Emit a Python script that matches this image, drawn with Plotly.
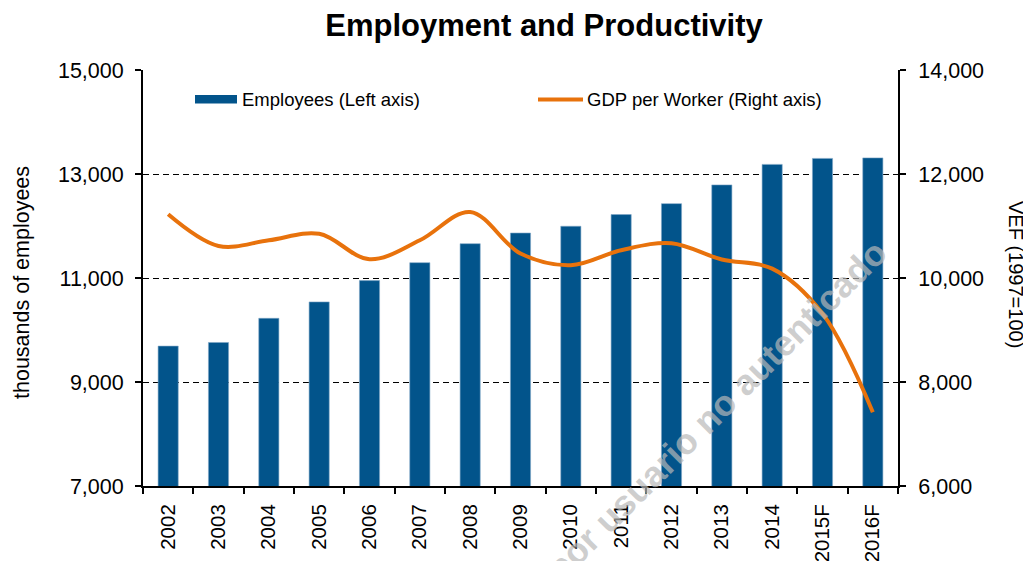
import plotly.graph_objects as go

years = ["2002", "2003", "2004", "2005", "2006", "2007", "2008", "2009",
         "2010", "2011", "2012", "2013", "2014", "2015F", "2016F"]
employees = [9690, 9760, 10225, 10540, 10950, 11295, 11660, 11865,
             11995, 12220, 12430, 12790, 13185, 13300, 13310]
gdp_per_worker = [11225, 10615, 10725, 10850, 10360, 10725, 11270, 10470,
                  10245, 10535, 10670, 10355, 10180, 9315, 7420]

title_text = "Employment and Productivity"
bar_name = "Employees (Left axis)"
line_name = "GDP per Worker (Right axis)"
left_title = "thousands of employees"
right_title = "VEF (1997=100)"
watermark = "por usuario no autenticado"

BAR_COLOR = "#02548B"
LINE_COLOR = "#E8720C"
FONT = "Liberation Sans, Arial, sans-serif"

# page body has an 8px margin; figure is sized to fill the rest of the window
OFF = 8
W, H = 1031 - OFF, 561 - OFF
PL, PR, PT, PB = 143, 898, 70, 486          # plot area in window pixels
PW, PH = PR - PL, PB - PT


def px(xw):
    return (xw - PL) / PW


def py(yw):
    return (PB - yw) / PH


fig = go.Figure()
fig.add_trace(go.Bar(
    x=years, y=employees, name=bar_name, yaxis="y",
    marker=dict(color=BAR_COLOR, line=dict(color="#7FA6C6", width=0.6)),
    width=0.4, showlegend=False,
))
fig.add_trace(go.Scatter(
    x=years, y=gdp_per_worker, name=line_name, yaxis="y2", mode="lines",
    line=dict(color=LINE_COLOR, width=4, shape="spline", smoothing=1.0),
    showlegend=False,
))

axis_common = dict(
    showline=True, linecolor="black", linewidth=2, automargin=False,
    ticks="outside", ticklen=6, tickcolor="black", tickwidth=1.5,
)

fig.update_layout(
    width=W, height=H,
    margin=dict(l=PL - OFF, r=W - (PR - OFF), t=PT - OFF, b=H - (PB - OFF)),
    paper_bgcolor="white", plot_bgcolor="white",
    font=dict(family=FONT, color="black"),
    title=dict(text="<b>" + title_text + "</b>", x=(544 - OFF) / W, xanchor="center",
               y=1 - (25 - OFF) / H, yanchor="middle",
               font=dict(family=FONT, size=31, color="black")),
    xaxis=dict(type="category", tickson="boundaries", tickangle=-90,
               showgrid=False, ticklabelstandoff=8,
               tickfont=dict(family=FONT, size=20.5, color="black"), **axis_common),
    yaxis=dict(range=[7000, 15000], tick0=7000, dtick=2000, tickformat=",",
               showgrid=True, gridcolor="black", gridwidth=1.3, griddash="6px,4px",
               zeroline=False, ticklabelstandoff=7,
               tickfont=dict(family=FONT, size=21.5, color="black"), **axis_common),
    yaxis2=dict(range=[6000, 14000], tick0=6000, dtick=2000, tickformat=",",
                overlaying="y", side="right", showgrid=False, zeroline=False,
                ticklabelstandoff=8,
                tickfont=dict(family=FONT, size=21.5, color="black"), **axis_common),
    showlegend=False,
)

# legend drawn as swatches + text inside plot area
fig.add_shape(type="rect", xref="paper", yref="paper",
              x0=px(195), x1=px(237), y0=py(103.5), y1=py(95),
              fillcolor=BAR_COLOR, line=dict(width=0))
fig.add_shape(type="line", xref="paper", yref="paper",
              x0=px(538), x1=px(583), y0=py(99.5), y1=py(99.5),
              line=dict(color=LINE_COLOR, width=4))
fig.add_annotation(text=bar_name, xref="paper", yref="paper",
                   x=px(240), y=py(99.5),
                   xanchor="left", yanchor="middle", showarrow=False,
                   font=dict(family=FONT, size=18.5, color="black"))
fig.add_annotation(text=line_name, xref="paper", yref="paper",
                   x=px(585), y=py(99.5),
                   xanchor="left", yanchor="middle", showarrow=False,
                   font=dict(family=FONT, size=18.5, color="black"))

# axis titles
fig.add_annotation(text=left_title, xref="paper", yref="paper",
                   x=px(22), y=py(283), textangle=-90,
                   xanchor="center", yanchor="middle", showarrow=False,
                   font=dict(family=FONT, size=21.5, color="black"))
fig.add_annotation(text=right_title, xref="paper", yref="paper",
                   x=px(1016), y=py(274), textangle=90,
                   xanchor="center", yanchor="middle", showarrow=False,
                   font=dict(family=FONT, size=20, color="black"))

# watermark
fig.add_annotation(text="<b>" + watermark + "</b>", xref="paper", yref="paper",
                   x=px(716), y=py(410), textangle=-45,
                   xanchor="center", yanchor="middle", showarrow=False,
                   font=dict(family=FONT, size=36, color="rgba(185,185,185,0.7)"))

fig.write_html("out.html")
